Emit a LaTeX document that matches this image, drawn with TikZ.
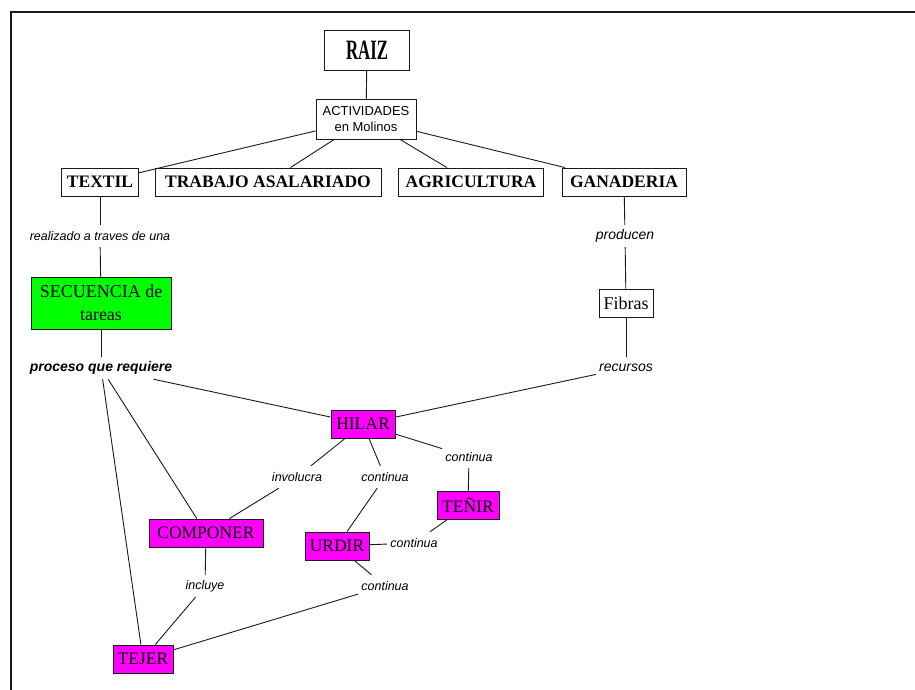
\documentclass[tikz,border=0pt]{standalone}
\usepackage{fontspec}
\setmainfont{Liberation Serif}
\newfontfamily\lsans{Liberation Sans}
\definecolor{mag}{HTML}{FF00FF}
\definecolor{grn}{HTML}{00FF00}
\definecolor{ln}{HTML}{1A1A1A}
\tikzset{
  box/.style={draw=ln, line width=0.9pt, inner sep=0pt, minimum height=28pt, align=center,
    font=\fontsize{17.5}{18}\selectfont},
  topbox/.style={box, font=\fontsize{17.5}{18}\selectfont\bfseries},
  task/.style={box, fill=mag},
  lbl/.style={inner xsep=3pt, inner ysep=0pt, minimum height=22pt,
    font=\lsans\itshape\fontsize{12.5}{13}\selectfont},
  biglbl/.style={lbl, font=\lsans\itshape\fontsize{14}{15}\selectfont},
  conn/.style={draw=ln, line width=0.9pt},
}
\begin{document}
\begin{tikzpicture}[x=1pt,y=-1pt]
\useasboundingbox (0,0) rectangle (915,690);
\fill[white] (0,0) rectangle (915,690);
% frame
\draw[line width=2.5pt, draw=black!90] (11,690) -- (11,12) -- (915,12);

% nodes
\node[box, minimum width=85pt, minimum height=40pt] (raiz) at (367,50)
  {\scalebox{0.6}[1]{\fontsize{28}{28}\selectfont\bfseries RAIZ}};
\node[box, minimum width=100pt, minimum height=40pt,
  font=\lsans\fontsize{13}{16}\selectfont] (act) at (366,119) {ACTIVIDADES\\en Molinos};
\node[topbox, minimum width=77pt] (textil) at (100,182) {TEXTIL};
\node[topbox, minimum width=226pt] (trabajo) at (268,182) {TRABAJO ASALARIADO};
\node[topbox, minimum width=145pt] (agri) at (471,182) {AGRICULTURA};
\node[topbox, minimum width=124pt] (gana) at (624,182) {GANADERIA};

\node[lbl] (realiz) at (100,236) {realizado a traves de una};
\node[box, fill=grn, minimum width=140pt, minimum height=52pt,
  font=\fontsize{18}{23}\selectfont] (secu) at (101,303) {SECUENCIA de\\tareas};
\node[lbl, font=\lsans\itshape\bfseries\fontsize{14}{15}\selectfont] (proc) at (101,368) {proceso que requiere};

\node[biglbl] (prod) at (625,236) {producen};
\node[box, minimum width=54pt, font=\fontsize{18}{18}\selectfont] (fibras) at (626,303) {Fibras};
\node[biglbl] (recur) at (626,368) {recursos};

\node[task, minimum width=64pt] (hilar) at (363,424) {HILAR};
\node[lbl] (invol) at (297,477) {involucra};
\node[lbl] (cont1) at (385,477) {continua};
\node[lbl] (cont2) at (469,457) {continua};
\node[task, minimum width=62pt] (tenir) at (468,505) {TEÑIR};
\node[task, minimum width=114pt] (compo) at (206,533) {COMPONER};
\node[task, minimum width=64pt] (urdir) at (337,546) {URDIR};
\node[lbl] (cont3) at (414,543) {continua};
\node[lbl] (cont4) at (385,586) {continua};
\node[lbl] (incl) at (205,586) {incluye};
\node[task, minimum width=60pt] (tejer) at (143,659) {TEJER};

% connectors
\path[conn] (raiz) -- (act);
\path[conn] (act) -- (textil);
\path[conn] (act) -- (trabajo);
\path[conn] (act) -- (agri);
\path[conn] (act) -- (gana);
\path[conn] (textil) -- (realiz);
\path[conn] (realiz) -- (secu);
\path[conn] (secu) -- (proc);
\path[conn] (proc) -- (hilar);
\path[conn] (proc) -- (compo);
\path[conn] (proc) -- (tejer);
\path[conn] (gana) -- (prod);
\path[conn] (prod) -- (fibras);
\path[conn] (fibras) -- (recur);
\path[conn] (recur) -- (hilar);
\path[conn] (hilar) -- (invol);
\path[conn] (invol) -- (compo);
\path[conn] (hilar) -- (cont1);
\path[conn] (cont1) -- (urdir);
\path[conn] (hilar) -- (cont2);
\path[conn] (cont2) -- (tenir);
\path[conn] (tenir) -- (cont3);
\path[conn] (cont3) -- (urdir);
\path[conn] (urdir) -- (cont4);
\path[conn] (cont4) -- (tejer);
\path[conn] (compo) -- (incl);
\path[conn] (incl) -- (tejer);
\end{tikzpicture}
\end{document}
